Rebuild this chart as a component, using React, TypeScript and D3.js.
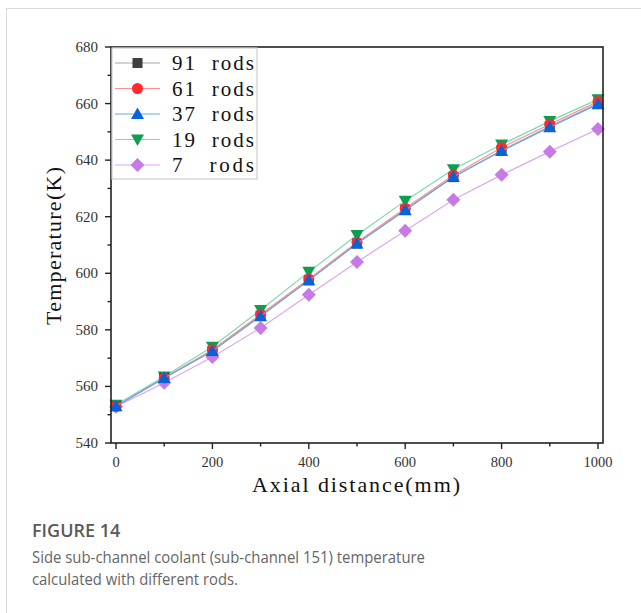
import React from "react";
import * as d3 from "d3";

const distances = [0, 100, 200, 300, 400, 500, 600, 700, 800, 900, 1000];
const rods91 = [553, 563, 572.5, 585, 597.5, 610.5, 622.5, 634, 643.5, 652, 660];
const rods61 = [553, 563, 573, 585.5, 598, 611, 623, 634.7, 644.5, 652.7, 660.7];
const rods37 = [553, 563, 572.5, 584.8, 597.5, 610.5, 622.3, 634.1, 643.2, 651.6, 659.8];
const rods19 = [553.5, 563.5, 574, 587, 600.5, 613.5, 625.6, 636.8, 645.5, 653.8, 661.5];
const rods7 = [552.8, 561.3, 570.4, 580.7, 592.4, 604, 615, 626, 634.8, 643, 651];
const seriesNames = ["91  rods", "61  rods", "37  rods", "19  rods", "7   rods"];
const xTicks = [0, 200, 400, 600, 800, 1000];
const yTicks = [540, 560, 580, 600, 620, 640, 660, 680];

const lineColors = ["#a8a8a8", "#ff8f8f", "#6aa6e8", "#7fd8b4", "#dca8f0"];
const markColors = ["#3f3f3f", "#ff2a2a", "#0a62d8", "#0aa050", "#c77ae6"];
const symbols = ["square", "circle", "triangle", "down", "diamond"];

function Marker({ kind, x, y, color }: { kind: string; x: number; y: number; color: string }) {
  if (kind === "square") return <rect x={x - 5} y={y - 5} width={10} height={10} fill={color} />;
  if (kind === "circle") return <circle cx={x} cy={y} r={5.5} fill={color} />;
  if (kind === "triangle")
    return <path d={`M${x},${y - 6.5}L${x + 6.5},${y + 5}L${x - 6.5},${y + 5}Z`} fill={color} />;
  if (kind === "down")
    return <path d={`M${x},${y + 6.5}L${x + 6.5},${y - 5}L${x - 6.5},${y - 5}Z`} fill={color} />;
  return <path d={`M${x},${y - 7}L${x + 7},${y}L${x},${y + 7}L${x - 7},${y}Z`} fill={color} />;
}

export default function App() {
  const allSeries = [rods91, rods61, rods37, rods19, rods7];
  const x = d3.scaleLinear().domain([0, 1000]).range([116, 598]);
  const y = d3.scaleLinear().domain([540, 680]).range([443, 47]);
  const left = 111, right = 603, top = 47, bottom = 443;
  const line = d3
    .line<number>()
    .x((_, i) => x(distances[i]))
    .y((d) => y(d));
  const xMinor = d3.range(0, 1001, 100);
  const yMinor = d3.range(540, 681, 10);
  const serif = "'Liberation Serif', 'DejaVu Serif', serif";
  const sans = "'Open Sans', 'Noto Sans', sans-serif";
  const drawOrder = [4, 3, 0, 1, 2];
  return (
    <svg
      width={641}
      height={613}
      style={{ position: "absolute", left: 0, top: 0, background: "#fff" }}
    >
      <line x1={6} y1={8.5} x2={641} y2={8.5} stroke="#d9d9d9" />
      <line x1={6.5} y1={8} x2={6.5} y2={613} stroke="#d9d9d9" />

      {/* series */}
      {drawOrder.map((si) => (
        <g key={si}>
          <path d={line(allSeries[si]) || ""} fill="none" stroke={lineColors[si]} strokeWidth={1.2} />
          {allSeries[si].map((v, i) => (
            <Marker key={i} kind={symbols[si]} x={x(distances[i])} y={y(v)} color={markColors[si]} />
          ))}
        </g>
      ))}

      {/* frame */}
      <rect x={left} y={top} width={right - left} height={bottom - top} fill="none" stroke="#222" strokeWidth={1.6} />

      {/* x ticks */}
      {xMinor.map((t) => (
        <line key={t} x1={x(t)} x2={x(t)} y1={bottom} y2={bottom + (t % 200 === 0 ? 6 : 3.5)} stroke="#222" strokeWidth={1.4} />
      ))}
      {xTicks.map((t) => (
        <text key={t} x={x(t)} y={467} textAnchor="middle" fontFamily={serif} fontSize={14.5} fill="#333">
          {t}
        </text>
      ))}
      {/* y ticks */}
      {yMinor.map((t) => (
        <line key={t} x1={left} x2={left - (t % 20 === 0 ? 6 : 3.5)} y1={y(t)} y2={y(t)} stroke="#222" strokeWidth={1.4} />
      ))}
      {yTicks.map((t) => (
        <text key={t} x={98} y={y(t) + 5} textAnchor="end" fontFamily={serif} fontSize={15} fill="#333">
          {t}
        </text>
      ))}

      {/* axis titles */}
      <text x={252} y={492} fontFamily={serif} fontSize={22} fill="#111" textLength={208} lengthAdjust="spacing">
        Axial distance(mm)
      </text>
      <text
        transform="translate(61,325) rotate(-90)"
        x={0}
        y={0}
        fontFamily={serif}
        fontSize={22}
        fill="#111"
        textLength={158}
        lengthAdjust="spacing"
      >
        Temperature(K)
      </text>

      {/* legend */}
      <rect x={112} y={48} width={145} height={131} fill="#fff" stroke="#cfcfcf" strokeWidth={1.2} />
      {seriesNames.map((name, i) => {
        const ly = 63 + i * 25.5;
        return (
          <g key={name}>
            <line x1={115} x2={160} y1={ly} y2={ly} stroke={lineColors[i]} strokeWidth={1.2} />
            <Marker kind={symbols[i]} x={137.5} y={ly} color={markColors[i]} />
            <text x={172} y={ly + 7} fontFamily={serif} fontSize={21} fill="#111" xmlSpace="preserve" textLength={82} lengthAdjust="spacing">
              {name}
            </text>
          </g>
        );
      })}

      {/* caption */}
      <text x={32} y={537} fontFamily={sans} fontSize={18} fontWeight={600} fill="#5a5a5a">
        FIGURE 14
      </text>
      <text x={32} y={563} fontFamily={sans} fontSize={17} fill="#666" textLength={393} lengthAdjust="spacingAndGlyphs">
        Side sub-channel coolant (sub-channel 151) temperature
      </text>
      <text x={32} y={585} fontFamily={sans} fontSize={17} fill="#666" textLength={206} lengthAdjust="spacingAndGlyphs">
        calculated with different rods.
      </text>
    </svg>
  );
}
